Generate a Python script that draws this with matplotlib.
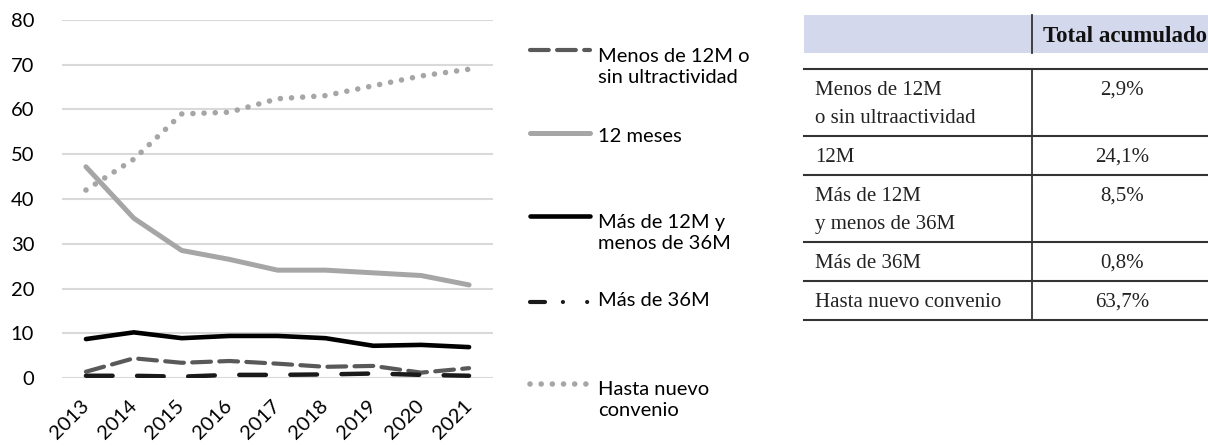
import matplotlib.pyplot as plt
from matplotlib.lines import Line2D
from matplotlib.patches import Rectangle

# data
years = ["2013", "2014", "2015", "2016", "2017", "2018", "2019", "2020", "2021"]
menos_12m = [1.4, 4.4, 3.4, 3.8, 3.2, 2.5, 2.7, 1.2, 2.2]
doce_meses = [47.2, 35.7, 28.5, 26.5, 24.1, 24.1, 23.5, 22.9, 20.8]
mas_12m = [8.7, 10.2, 8.9, 9.4, 9.4, 8.9, 7.2, 7.4, 6.9]
mas_36m = [0.5, 0.5, 0.3, 0.7, 0.7, 0.8, 1.0, 0.7, 0.5]
hasta_nuevo = [42.0, 48.9, 59.0, 59.4, 62.4, 63.1, 65.3, 67.5, 69.0]

legend_labels = ["Menos de 12M o\nsin ultractividad", "12 meses",
                 "Más de 12M y\nmenos de 36M", "Más de 36M",
                 "Hasta nuevo\nconvenio"]

table_rows = ["Menos de 12M\no sin ultraactividad", "12M",
              "Más de 12M\ny menos de 36M", "Más de 36M", "Hasta nuevo convenio"]
table_vals = ["2,9%", "24,1%", "8,5%", "0,8%", "63,7%"]
table_head = "Total acumulado"

W, H = 1208, 446
fig = plt.figure(figsize=(W / 100, H / 100), dpi=100)
plt.rcParams['font.family'] = ['Lato', 'DejaVu Sans']


def fx(x):
    return x / W


def fy(y):
    return 1 - y / H


ax = fig.add_axes([fx(62), fy(378), fx(493) - fx(62), fy(20) - fy(378)])

styles = [
    dict(color="#595959", lw=3.0, ls=(0, (4.5, 2.0)), dash_capstyle="round"),
    dict(color="#a6a6a6", lw=3.6, ls="-", solid_capstyle="round"),
    dict(color="#000000", lw=3.3, ls="-", solid_capstyle="round"),
    dict(color="#1a1a1a", lw=3.2, ls=(0, (6, 5.5)), dash_capstyle="round"),
    dict(color="#a6a6a6", lw=4.0, ls=(0, (0.01, 2.0)), dash_capstyle="round"),
]
series = [menos_12m, doce_meses, mas_12m, mas_36m, hasta_nuevo]
x = list(range(len(years)))
for vals, st in zip(series, styles):
    ax.plot(x, vals, **st)

ax.set_xlim(-0.5, len(years) - 0.5)
ax.set_ylim(0, 80)
ax.set_yticks(range(0, 81, 10))
ax.set_xticks(x)
ax.set_xticklabels(years, rotation=45, ha="right", va="center", rotation_mode="anchor")
ax.tick_params(axis="both", length=0, labelsize=14.5, colors="#000000")
ax.tick_params(axis="y", pad=20)
ax.tick_params(axis="x", pad=18)
ax.grid(axis="y", color="#d9d9d9", lw=1.5)
ax.set_axisbelow(True)
for s in ax.spines.values():
    s.set_visible(False)

# legend drawn by hand to follow the uneven spacing
leg_styles = list(styles)
leg_styles[3] = dict(color="#1a1a1a", lw=3.0, ls=(0, (3.6, 4.3, 0.01, 5.8, 0.01, 10)),
                     dash_capstyle="round")
leg_y = [50, 133, 216, 302, 384]
text_y = [67, 136, 233, 300, 400]
for lab, st, ly, ty in zip(legend_labels, leg_styles, leg_y, text_y):
    fig.add_artist(Line2D([fx(530), fx(590)], [fy(ly), fy(ly)], **st))
    fig.text(fx(598), fy(ty), lab, fontsize=14.5, va="center", ha="left",
             linespacing=1.35)

# table on the right
serif = ["Liberation Serif", "DejaVu Serif"]
fig.add_artist(Rectangle((fx(804), fy(53)), fx(1208) - fx(804), fy(15) - fy(53),
                         color="#d4d8ec", lw=0))
fig.add_artist(Line2D([fx(1032), fx(1032)], [fy(15), fy(53)], color="#333333", lw=1.3))
fig.add_artist(Line2D([fx(1032), fx(1032)], [fy(69), fy(320)], color="#333333", lw=1.3))
fig.text(fx(1043), fy(42), table_head, fontsize=16.5, fontweight="bold",
         family=serif, va="baseline", ha="left", color="#111111")
row_lines = [69, 136, 175, 242, 281, 320]
for yl in row_lines:
    fig.add_artist(Line2D([fx(804), fx(1208)], [fy(yl), fy(yl)], color="#333333", lw=1.5))
for i, (lab, val) in enumerate(zip(table_rows, table_vals)):
    base = row_lines[i] + 26
    for k, part in enumerate(lab.split("\n")):
        fig.text(fx(815), fy(base + 28 * k), part, fontsize=15, family=serif,
                 va="baseline", ha="left", color="#222222")
    fig.text(fx(1122), fy(base), val, fontsize=15, family=serif, va="baseline",
             ha="center", color="#222222")

fig.savefig("out.png", dpi=100)
